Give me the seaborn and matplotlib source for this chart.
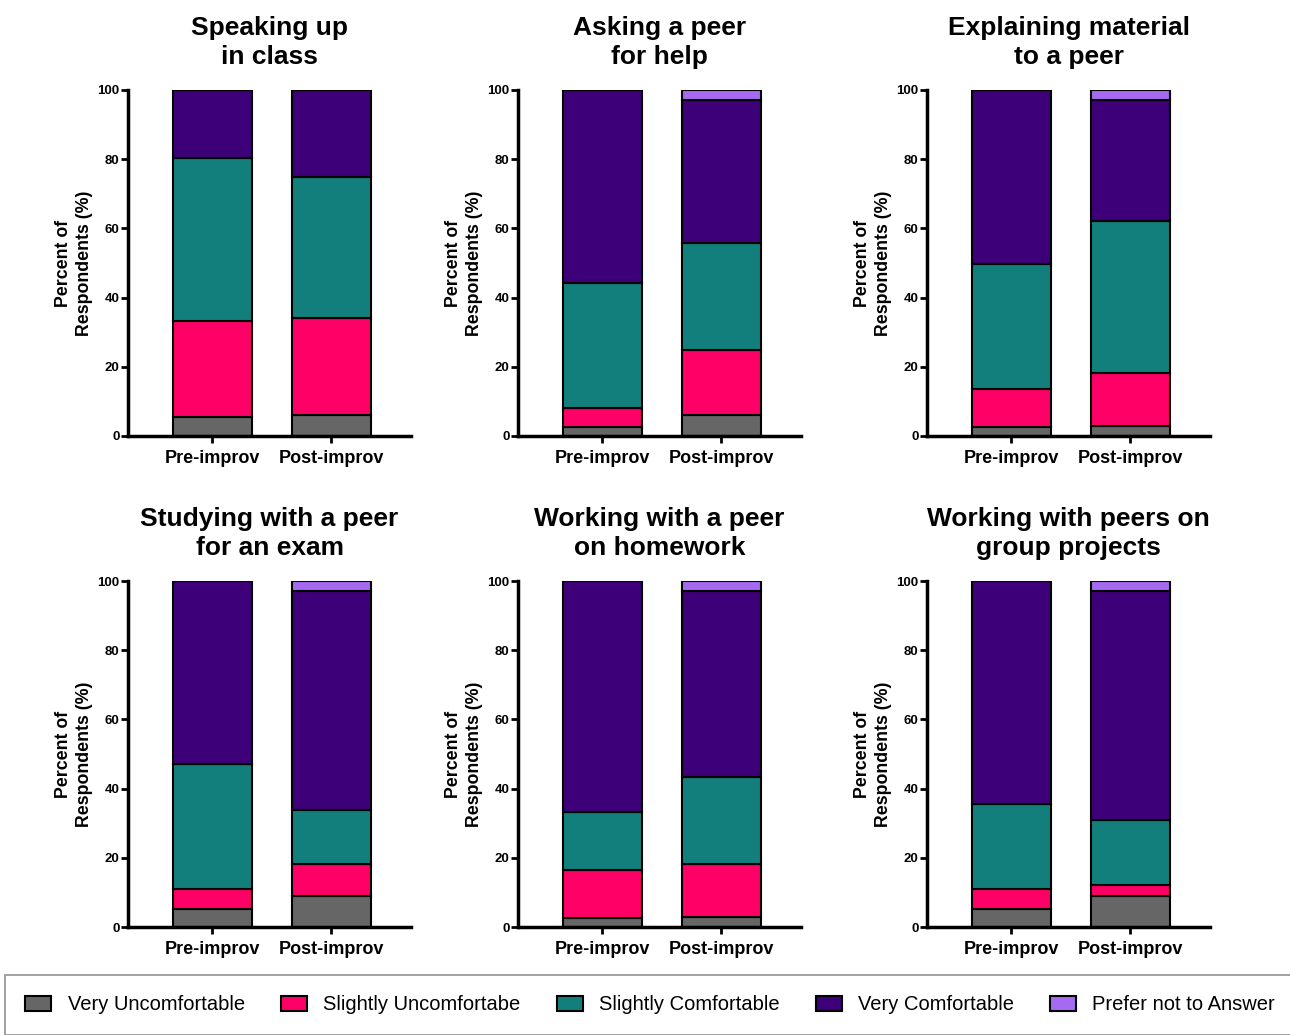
import numpy as np
import pandas as pd
import matplotlib
matplotlib.use("Agg")
import matplotlib.pyplot as plt
from matplotlib.patches import Patch
import seaborn as sns

phases = ["Pre-improv", "Post-improv"]
responses = ["Very Uncomfortable", "Slightly Uncomfortabe", "Slightly Comfortable",
             "Very Comfortable", "Prefer not to Answer"]
titles = ["Speaking up\nin class", "Asking a peer\nfor help", "Explaining material\nto a peer",
          "Studying with a peer\nfor an exam", "Working with a peer\non homework",
          "Working with peers on\ngroup projects"]

# Percent of respondents per response, each entry is [pre, post]
very_uncomfortable = [[5.5, 6.1], [2.6, 6.1], [2.6, 3.0], [5.2, 9.1], [2.6, 3.0], [5.2, 9.1]]
slightly_uncomfortable = [[27.7, 28.0], [5.5, 18.8], [11.0, 15.2], [5.8, 9.1], [13.9, 15.2], [5.8, 3.0]]
slightly_comfortable = [[47.1, 40.8], [36.1, 30.9], [36.1, 44.0], [36.1, 15.6], [16.7, 25.1], [24.5, 18.8]]
very_comfortable = [[19.7, 25.1], [55.8, 41.2], [50.3, 34.8], [52.9, 63.2], [66.8, 53.7], [64.5, 66.1]]
prefer_not = [[0, 0], [0, 3.0], [0, 3.0], [0, 3.0], [0, 3.0], [0, 3.0]]

colors = ["#666666", "#FF0066", "#127F7C", "#3D0078", "#A66AF2"]

sns.set_style("ticks")
plt.rcParams["font.family"] = ["Liberation Sans", "DejaVu Sans"]
plt.rcParams["font.weight"] = "bold"
for key in ["text.color", "axes.labelcolor", "xtick.color", "ytick.color", "axes.edgecolor"]:
    plt.rcParams[key] = "black"

fig = plt.figure(figsize=(12.9, 10.35), dpi=100)

W, H = 1290, 1035
lefts = [128, 518, 927]
tops = [90, 581]
ax_w, ax_h = 283, 346

series = [very_uncomfortable, slightly_uncomfortable, slightly_comfortable,
          very_comfortable, prefer_not]

for i, title in enumerate(titles):
    r, c = divmod(i, 3)
    ax = fig.add_axes([lefts[c] / W, 1 - (tops[r] + ax_h) / H, ax_w / W, ax_h / H])
    bottom = np.zeros(2)
    for s, col in zip(series, colors):
        vals = np.array(s[i], dtype=float)
        df = pd.DataFrame({"phase": phases, "pct": vals})
        sns.barplot(data=df, x="phase", y="pct", color=col, bottom=bottom,
                    edgecolor="black", linewidth=1.5, width=0.66, ax=ax,
                    saturation=1)
        bottom = bottom + vals
    ax.set_xlim(-0.71, 1.67)
    ax.set_ylim(0, 100)
    ax.set_yticks(np.arange(0, 101, 20))
    ax.set_xlabel("")
    ax.set_ylabel("Percent of\nRespondents (%)", fontsize=12.8, fontweight="bold",
                  labelpad=3, linespacing=1.35, color="black")
    ax.set_title(title, fontsize=19, fontweight="bold", pad=19, linespacing=1.25,
                 color="black")
    for side in ["top", "right"]:
        ax.spines[side].set_visible(False)
    for side in ["left", "bottom"]:
        ax.spines[side].set_linewidth(2.5)
        ax.spines[side].set_color("black")
    ax.tick_params(axis="y", labelsize=9.5, width=2, length=5, color="black",
                   labelcolor="black", pad=1)
    ax.tick_params(axis="x", labelsize=13, width=2, length=5, color="black",
                   labelcolor="black", pad=5)
    for lab in ax.get_xticklabels() + ax.get_yticklabels():
        lab.set_fontweight("bold")

handles = [Patch(facecolor=col, edgecolor="black", linewidth=1.5) for col in colors]
leg = fig.legend(handles, responses, loc="center left", ncol=5, mode="expand",
                 bbox_to_anchor=(0.004, -0.002, 1.0, 0.062), borderaxespad=0,
                 frameon=True, fancybox=False, edgecolor="#777777",
                 prop={"size": 14.5, "weight": "normal"},
                 handlelength=1.3, handleheight=0.8, handletextpad=0.8,
                 borderpad=1.0)
leg.get_frame().set_linewidth(1.2)

fig.savefig("out.png", dpi=100)
